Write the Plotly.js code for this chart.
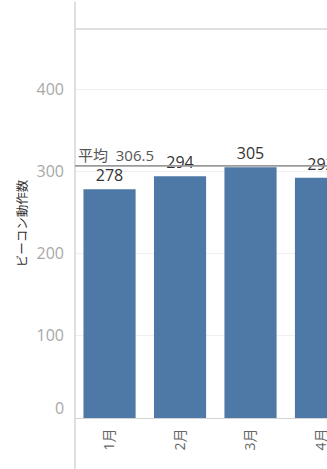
<!DOCTYPE html>
<html><head><meta charset="utf-8">
<script src="https://cdn.plot.ly/plotly-3.0.1.min.js"></script>
<style>html,body{margin:0;padding:0;background:#fff;}#chart{width:327px;height:469px;}</style>
</head><body><div id="chart"></div>
<script>
const months = ["1月","2月","3月","4月"];
const counts = [278, 294, 305, 292];
const averageValue = 306.5;
const averageLabel = "平均";
const yTitle = "ビーコン動作数";
const yTicks = [100, 200, 300, 400];
const zeroTick = "0";

const fontFam = "'Open Sans', 'Noto Sans CJK JP', sans-serif";
const cjkFam = "'Noto Sans CJK JP', sans-serif";
const trace = {
  type: 'bar', x: months, y: counts,
  marker: {color: '#4e79a7'},
  width: 0.74,
  text: counts.map(String), textposition: 'outside',
  textfont: {family: fontFam, size: 16, color: '#333'},
  cliponaxis: true, hoverinfo: 'none'
};
const layout = {
  width: 327, height: 469,
  margin: {l: 75, r: 0, t: 29, b: 51},
  paper_bgcolor: '#fff', plot_bgcolor: '#fff',
  showlegend: false,
  font: {family: fontFam},
  xaxis: {
    type: 'category', range: [-0.49, 3.085],
    tickangle: -90, tickfont: {family: fontFam, size: 14, color: '#666'},
    showgrid: false, showline: true, linecolor: '#d4d4d4', linewidth: 1,
    ticks: '', ticklabelstandoff: 4
  },
  yaxis: {
    range: [0, 473], tickvals: yTicks,
    tickfont: {family: fontFam, size: 16, color: '#a8a8a8'},
    showgrid: true, gridcolor: '#f0f0f0', zeroline: false,
    showline: false, ticks: '', ticklabelstandoff: 10,
    title: {text: yTitle, font: {family: cjkFam, size: 12.5, color: '#333'}, standoff: 6}
  },
  shapes: [
    {type: 'line', xref: 'paper', yref: 'paper', x0: 0, x1: 0, y0: -0.14, y1: 1.07,
     line: {color: '#d4d4d4', width: 1.5}},
    {type: 'line', xref: 'paper', yref: 'paper', x0: 0, x1: 1, y0: 1, y1: 1,
     line: {color: '#d4d4d4', width: 1.5}},
    {type: 'line', xref: 'paper', yref: 'y', x0: 0, x1: 1, y0: averageValue, y1: averageValue,
     line: {color: '#9a9a9a', width: 1.8}}
  ],
  annotations: [
    {xref: 'paper', yref: 'y', x: 0.005, y: averageValue, xanchor: 'left', yanchor: 'bottom',
     text: averageLabel + '  ' + averageValue, showarrow: false, yshift: -1,
     font: {family: fontFam, size: 15, color: '#555'}},
    {xref: 'paper', yref: 'y', x: 0, y: 0, xanchor: 'right', yanchor: 'middle',
     text: zeroTick, showarrow: false, xshift: -9, yshift: 10,
     font: {family: fontFam, size: 16, color: '#a8a8a8'}}
  ]
};
Plotly.newPlot('chart', [trace], layout, {displayModeBar: false, staticPlot: true});
</script></body></html>
